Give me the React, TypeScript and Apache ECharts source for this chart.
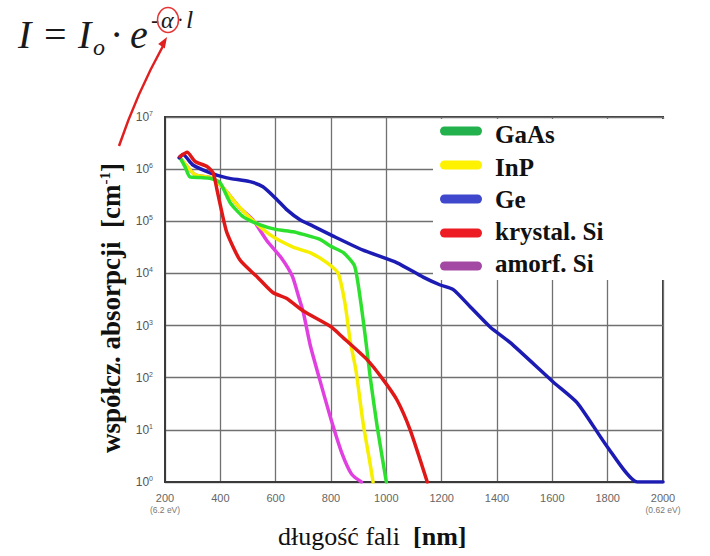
import React, { useEffect, useRef } from "react";
import * as echarts from "echarts";

// ---------- data (wavelength in nm, absorption coefficient in cm^-1) ----------
const SERIES_NAMES = ["GaAs", "InP", "Ge", "krystal. Si", "amorf. Si"];
const LINE_COLORS = ["#2ee02e", "#f7ef00", "#1c1cb4", "#e01818", "#e040e0"];
const LEGEND_COLORS = ["#22b14c", "#fff200", "#3f48cc", "#ed1c24", "#a349a4"];

const GAAS_NM = [254, 272, 290, 330, 363, 399, 435, 482, 544, 600, 663, 700, 760, 800, 845, 885, 905, 925, 942, 967, 1000];
const GAAS_ALPHA = [1.66e6, 1.12e6, 7.1e5, 6.9e5, 6.7e5, 5.5e5, 2.3e5, 1.23e5, 8.5e4, 7.0e4, 6.3e4, 5.6e4, 4.5e4, 3.3e4, 2.5e4, 1.4e4, 3.5e3, 5.6e2, 1.0e2, 1.15e1, 1];

const INP_NM = [261, 309, 370, 417, 460, 507, 580, 663, 724, 786, 826, 851, 869, 890, 916, 941, 952];
const INP_ALPHA = [1.5e6, 7.8e5, 6.8e5, 4.0e5, 2.1e5, 1.17e5, 5.5e4, 3.2e4, 2.5e4, 1.6e4, 1.0e4, 2.6e3, 5.2e2, 1.4e2, 1.35e1, 2.3, 1];

const GE_NM = [251, 265, 301, 363, 424, 507, 554, 605, 641, 688, 735, 808, 916, 1039, 1133, 1195, 1242, 1303, 1376, 1448, 1603, 1690, 1799, 1907, 2000];
const GE_ALPHA = [1.66e6, 1.9e6, 1.2e6, 8.5e5, 6.8e5, 5.75e5, 4.6e5, 2.6e5, 1.66e5, 1.07e5, 8.1e4, 5.2e4, 2.8e4, 1.6e4, 8.5e3, 6.0e3, 4.9e3, 2.3e3, 9.3e2, 4.7e2, 8.3e1, 3.3e1, 4.7, 1, 1];

const CSI_NM = [254, 280, 309, 352, 374, 388, 406, 424, 471, 536, 590, 640, 700, 800, 833, 931, 989, 1039, 1086, 1148];
const CSI_ALPHA = [1.74e6, 2.1e6, 1.4e6, 1.12e6, 8.5e5, 4.0e5, 1.45e5, 6.0e4, 1.8e4, 8.3e3, 4.3e3, 3.3e3, 1.9e3, 9.5e2, 6.6e2, 2.2e2, 9.1e1, 3.7e1, 1.0e1, 1];

const ASI_NM = [261, 309, 370, 417, 471, 518, 569, 620, 660, 685, 700, 725, 760, 800, 840, 875, 910];
const ASI_ALPHA = [1.5e6, 7.8e5, 6.8e5, 4.0e5, 1.8e5, 1.07e5, 4.2e4, 2.0e4, 8.9e3, 3.3e3, 1.8e3, 4.2e2, 8.9e1, 1.6e1, 3.5, 1.4, 1];

const X_MIN = 200;
const X_MAX = 2000;
const X_STEP = 200;
const Y_MIN = 1;
const Y_MAX = 1e7;
const X_EXTRA_LABELS: Record<number, string> = { 200: "(6.2 eV)", 2000: "(0.62 eV)" };

const X_TITLE = "długość fali";
const X_UNIT = "[nm]";
const Y_TITLE = "współcz. absorpcji  [cm";
const Y_UNIT_SUP = "-1";

const SERIF = '"Liberation Serif", "DejaVu Serif", serif';
const SANS = '"Liberation Sans", Arial, sans-serif';

const zip = (xs: number[], ys: number[]) => xs.map((x, i) => [x, ys[i]]);

export default function App() {
  const ref = useRef<HTMLDivElement>(null);

  useEffect(() => {
    if (!ref.current) return;
    const chart = echarts.init(ref.current, undefined, { renderer: "svg" });

    const dataByName: Record<string, number[][]> = {
      "GaAs": zip(GAAS_NM, GAAS_ALPHA),
      "InP": zip(INP_NM, INP_ALPHA),
      "Ge": zip(GE_NM, GE_ALPHA),
      "krystal. Si": zip(CSI_NM, CSI_ALPHA),
      "amorf. Si": zip(ASI_NM, ASI_ALPHA),
    };
    const drawOrder = ["amorf. Si", "InP", "GaAs", "Ge", "krystal. Si"];

    const series = drawOrder.map((name, k) => {
      const idx = SERIES_NAMES.indexOf(name);
      return {
        name,
        type: "line",
        data: dataByName[name],
        showSymbol: false,
        smooth: 0.2,
        z: 3 + k,
        lineStyle: { color: LINE_COLORS[idx], width: 3.5, join: "round", cap: "round" },
        itemStyle: { color: LINE_COLORS[idx] },
      };
    });

    const legendRows = [131, 165, 199, 233, 266];
    const legendTextY = [134, 167, 199, 231, 263];
    const legendGraphics: any[] = [
      {
        type: "rect",
        z: 50,
        shape: { x: 433, y: 119, width: 240, height: 161 },
        style: { fill: "#ffffff" },
      },
    ];
    SERIES_NAMES.forEach((name, i) => {
      legendGraphics.push({
        type: "rect",
        z: 51,
        shape: { x: 440, y: legendRows[i] - 4.5, width: 42, height: 9, r: 4.5 },
        style: { fill: LEGEND_COLORS[i] },
      });
      legendGraphics.push({
        type: "text",
        z: 51,
        x: 495,
        y: legendTextY[i],
        style: {
          text: name,
          fontFamily: SERIF,
          fontWeight: "bold",
          fontSize: 25,
          fill: "#111",
          align: "left",
          verticalAlign: "middle",
        },
      });
    });

    const formula: any[] = [
      { type: "text", z: 60, x: 18, y: 34, style: { text: "I", fontFamily: SERIF, fontStyle: "italic", fontSize: 40, fill: "#1a1a1a", verticalAlign: "middle" } },
      { type: "text", z: 60, x: 44, y: 34, style: { text: "=", fontFamily: SERIF, fontSize: 40, fill: "#1a1a1a", verticalAlign: "middle" } },
      { type: "text", z: 60, x: 78, y: 34, style: { text: "I", fontFamily: SERIF, fontStyle: "italic", fontSize: 40, fill: "#1a1a1a", verticalAlign: "middle" } },
      { type: "text", z: 60, x: 93, y: 47, style: { text: "o", fontFamily: SERIF, fontStyle: "italic", fontSize: 24, fill: "#1a1a1a", verticalAlign: "middle" } },
      { type: "text", z: 60, x: 110, y: 34, style: { text: "·", fontFamily: SERIF, fontSize: 40, fill: "#1a1a1a", verticalAlign: "middle" } },
      { type: "text", z: 60, x: 130, y: 34, style: { text: "e", fontFamily: SERIF, fontStyle: "italic", fontSize: 40, fill: "#1a1a1a", verticalAlign: "middle" } },
      { type: "text", z: 60, x: 151, y: 20, style: { text: "-", fontFamily: SERIF, fontSize: 24, fill: "#1a1a1a", verticalAlign: "middle" } },
      { type: "text", z: 60, x: 161, y: 20, style: { text: "α", fontFamily: SERIF, fontStyle: "italic", fontSize: 24, fill: "#1a1a1a", verticalAlign: "middle" } },
      { type: "text", z: 60, x: 177, y: 20, style: { text: "·", fontFamily: SERIF, fontSize: 20, fill: "#1a1a1a", verticalAlign: "middle" } },
      { type: "text", z: 60, x: 186, y: 19, style: { text: "l", fontFamily: SERIF, fontStyle: "italic", fontSize: 26, fill: "#1a1a1a", verticalAlign: "middle" } },
      { type: "ellipse", z: 61, shape: { cx: 168, cy: 20, rx: 10.5, ry: 12.5 }, style: { fill: "none", stroke: "#e53535", lineWidth: 1.5 } },
      {
        type: "bezierCurve",
        z: 61,
        shape: { x1: 119, y1: 146, x2: 163, y2: 46, cpx1: 137, cpy1: 93 },
        style: { fill: "none", stroke: "#e02020", lineWidth: 2.5 },
      },
      {
        type: "polygon",
        z: 61,
        shape: { points: [[167, 37], [164.8, 48.5], [158.2, 44.1]] },
        style: { fill: "#e02020" },
      },
    ];

    const titles: any[] = [
      {
        type: "text",
        z: 60,
        x: 278,
        y: 536,
        style: {
          text: `{n|${X_TITLE}  }{b|${X_UNIT}}`,
          verticalAlign: "middle",
          rich: {
            n: { fontFamily: SERIF, fontSize: 26, fill: "#111", color: "#111" },
            b: { fontFamily: SERIF, fontSize: 26, fontWeight: "bold", fill: "#111", color: "#111" },
          },
        },
      },
      {
        type: "text",
        z: 60,
        x: 111,
        y: 308,
        rotation: Math.PI / 2,
        style: {
          text: `{b|${Y_TITLE}}{s|${Y_UNIT_SUP}}{b|]}`,
          align: "center",
          verticalAlign: "middle",
          rich: {
            b: { fontFamily: SERIF, fontSize: 27, fontWeight: "bold", fill: "#111", color: "#111", lineHeight: 28 },
            s: { fontFamily: SERIF, fontSize: 15, fontWeight: "bold", fill: "#111", color: "#111", verticalAlign: "top", lineHeight: 28 },
          },
        },
      },
    ];

    chart.setOption({
      animation: false,
      backgroundColor: "#ffffff",
      grid: {
        left: 165,
        right: 47,
        top: 117,
        bottom: 74,
        show: true,
        borderColor: "#3a3a3a",
        borderWidth: 2,
        containLabel: false,
      },
      xAxis: {
        type: "value",
        min: X_MIN,
        max: X_MAX,
        interval: X_STEP,
        axisLine: { show: true, lineStyle: { color: "#3a3a3a", width: 2 } },
        axisTick: { show: false },
        splitLine: { show: true, lineStyle: { color: "#707070", width: 1.3 } },
        axisLabel: {
          margin: 9,
          color: "#666",
          fontFamily: SANS,
          fontSize: 11,
          lineHeight: 13,
          formatter: (v: number) => (X_EXTRA_LABELS[v] ? `${v}\n{e|${X_EXTRA_LABELS[v]}}` : `${v}`),
          rich: { e: { fontFamily: SANS, fontSize: 8.5, color: "#777", lineHeight: 11 } },
        },
      },
      yAxis: {
        type: "log",
        logBase: 10,
        min: Y_MIN,
        max: Y_MAX,
        splitNumber: 7,
        axisLine: { show: true, lineStyle: { color: "#3a3a3a", width: 2 } },
        axisTick: { show: false },
        splitLine: { show: true, lineStyle: { color: "#707070", width: 1.3 } },
        axisLabel: {
          margin: 12,
          formatter: (v: number) => `{b|10}{s|${Math.round(Math.log10(v))}}`,
          rich: {
            b: { fontFamily: SANS, fontSize: 12, color: "#555", lineHeight: 14 },
            s: { fontFamily: SANS, fontSize: 7, color: "#555", verticalAlign: "top", lineHeight: 14 },
          },
        },
      },
      series,
      graphic: [...legendGraphics, ...formula, ...titles],
    } as any);

    return () => chart.dispose();
  }, []);

  return (
    <div
      ref={ref}
      style={{ position: "fixed", left: 0, top: 0, width: 710, height: 556, background: "#fff" }}
    />
  );
}
